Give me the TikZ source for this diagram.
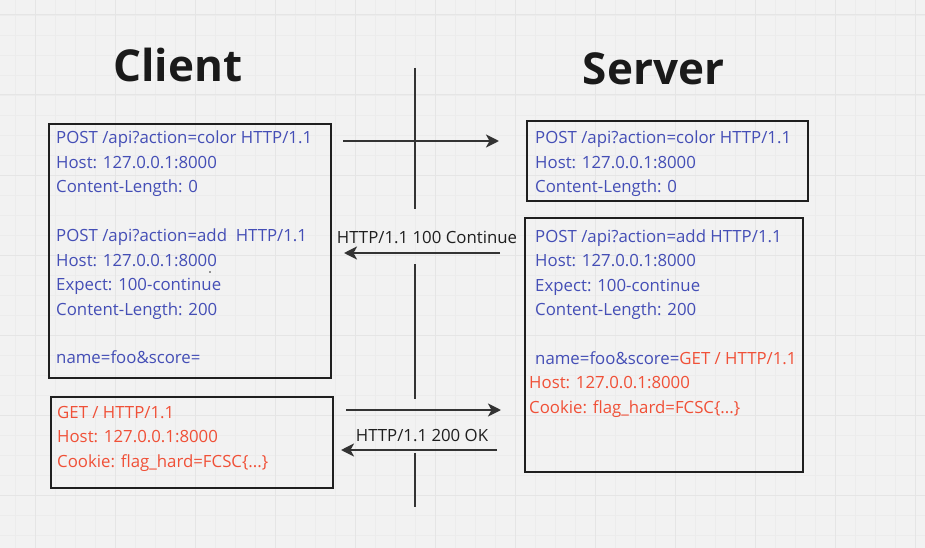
\documentclass[tikz,border=0pt]{standalone}
\usepackage{fontspec}
\setmainfont{Open Sans}
\usetikzlibrary{arrows.meta}
\definecolor{bgc}{RGB}{242,242,242}
\definecolor{minorc}{RGB}{236,236,236}
\definecolor{majorc}{RGB}{229,229,229}
\definecolor{reqblue}{RGB}{68,78,182}
\definecolor{reqred}{RGB}{240,80,55}
\definecolor{linec}{RGB}{51,51,51}
\definecolor{titlec}{RGB}{26,26,26}
\tikzset{
  box/.style={draw=black!88, line width=2pt, rectangle, inner sep=0pt, anchor=north west},
  txt/.style={inner sep=0pt, anchor=base west, font=\fontsize{16.8}{20}\selectfont, text=reqblue},
  redtxt/.style={txt, text=reqred},
  lbl/.style={inner sep=0pt, anchor=base, font=\fontsize{16.8}{20}\selectfont, text=black!88},
  title/.style={inner sep=0pt, anchor=base, font=\fontsize{44}{50}\selectfont\bfseries, text=titlec},
  msg/.style={draw=linec, line width=2.4pt, -{Stealth[length=13pt,width=13pt,inset=3.5pt]}},
  life/.style={draw=linec, line width=2pt}
}
\begin{document}
\begin{tikzpicture}[x=1pt,y=-1pt]
% background and grid
\fill[bgc] (0,0) rectangle (925,548);
\useasboundingbox (0,0) rectangle (925,548);
\foreach \g in {15,35,...,915} \draw[minorc, line width=0.7pt] (\g,0) -- (\g,548);
\foreach \g in {15,35,...,535} \draw[minorc, line width=0.7pt] (0,\g) -- (925,\g);
\foreach \g in {35,115,...,915} \draw[majorc, line width=1pt] (\g,0) -- (\g,548);
\foreach \g in {15,95,...,535} \draw[majorc, line width=1pt] (0,\g) -- (925,\g);

% titles
\node[title] (tclient) at (178,82) {Client};
\node[title] (tserver) at (653.5,85) {Server};

% lifeline
\coordinate (v1) at (415,68);
\coordinate (v2) at (415,209);
\coordinate (v3) at (415,264);
\coordinate (v4) at (415,399);
\coordinate (v5) at (415,453);
\coordinate (v6) at (415,507);
\draw[life] (v1) -- (v2);
\draw[life] (v3) -- (v4);
\draw[life] (v5) -- (v6);

% boxes
\node[box, minimum width=282pt, minimum height=254pt] (cbox1) at (48,123) {};
\node[box, minimum width=281pt, minimum height=80pt] (sbox1) at (526,120) {};
\node[box, minimum width=278pt, minimum height=254pt] (sbox2) at (524,217) {};
\node[box, minimum width=282pt, minimum height=91pt] (cbox2) at (50,396) {};

% client box 1 text
\node[txt] (c1a) at (56,144) {POST /api?action=color HTTP/1.1};
\node[txt] (c1b) at (56,168.5) {Host: 127.0.0.1:8000};
\node[txt] (c1c) at (56,193) {Content-Length: 0};
\node[txt] (c1d) at (56,241.5) {POST /api?action=add~ HTTP/1.1};
\node[txt] (c1e) at (56,266) {Host: 127.0.0.1:8000};
\node[txt] (c1f) at (56,290.5) {Expect: 100-continue};
\node[txt] (c1g) at (56,315) {Content-Length: 200};
\node[txt] (c1h) at (56,363.5) {name=foo\&score=};
\fill[black!80] (210,272) circle (0.9pt);

% server box 1 text
\node[txt] (s1a) at (535,144) {POST /api?action=color HTTP/1.1};
\node[txt] (s1b) at (535,168.5) {Host: 127.0.0.1:8000};
\node[txt] (s1c) at (535,193) {Content-Length: 0};

% server box 2 text
\node[txt] (s2a) at (535,242) {POST /api?action=add HTTP/1.1};
\node[txt] (s2b) at (535,266.5) {Host: 127.0.0.1:8000};
\node[txt] (s2c) at (535,291) {Expect: 100-continue};
\node[txt] (s2d) at (535,315.5) {Content-Length: 200};
\node[txt] (s2e) at (535,364) {name=foo\&score=\textcolor{reqred}{GET / HTTP/1.1}};
\node[redtxt] (s2f) at (529,388.5) {Host: 127.0.0.1:8000};
\node[redtxt] (s2g) at (529,413) {Cookie: flag\_hard=FCSC\{...\}};

% client box 2 text
\node[redtxt] (c2a) at (57,418) {GET / HTTP/1.1};
\node[redtxt] (c2b) at (57,442.5) {Host: 127.0.0.1:8000};
\node[redtxt] (c2c) at (57,467) {Cookie: flag\_hard=FCSC\{...\}};

% messages
\coordinate (m1s) at (343,141);
\coordinate (m1e) at (499,141);
\coordinate (m2s) at (500,253);
\coordinate (m2e) at (344,253);
\coordinate (m3s) at (346,410);
\coordinate (m3e) at (501,410);
\coordinate (m4s) at (497,450);
\coordinate (m4e) at (341,450);
\draw[msg] (m1s) -- (m1e);
\draw[msg] (m2s) -- (m2e);
\draw[msg] (m3s) -- (m3e);
\draw[msg] (m4s) -- (m4e);
\node[lbl] (l100) at (427,243) {HTTP/1.1 100 Continue};
\node[lbl] (l200) at (422,441) {HTTP/1.1 200 OK};
\end{tikzpicture}
\end{document}
